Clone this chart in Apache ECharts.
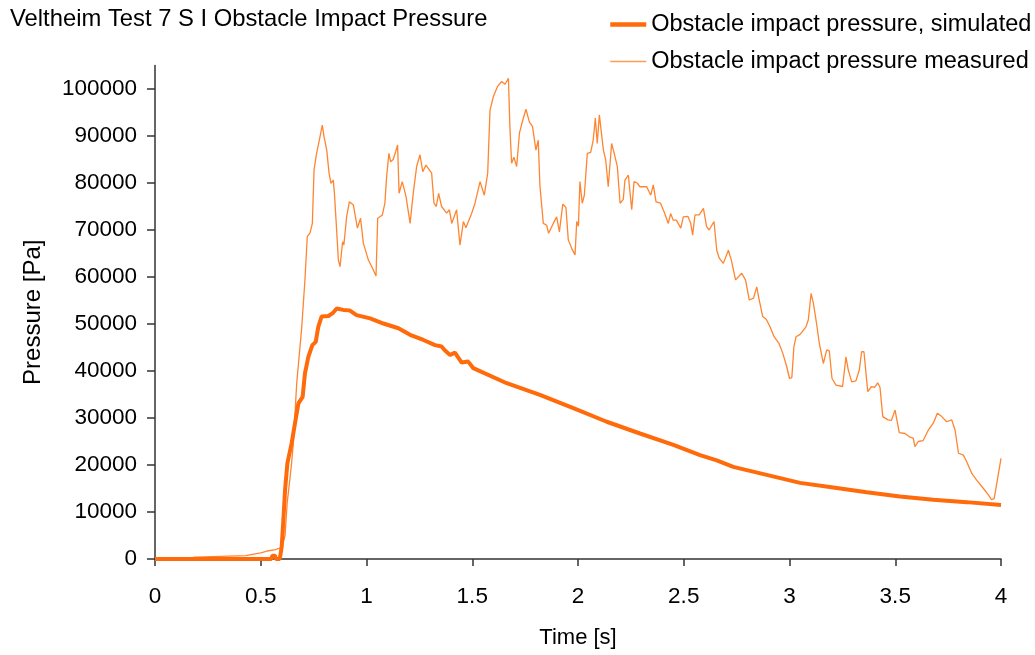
<!DOCTYPE html>
<html>
<head>
<meta charset="utf-8">
<script src="https://cdn.jsdelivr.net/npm/echarts@6/dist/echarts.min.js"></script>
<style>html,body{margin:0;padding:0;background:#fff}#c{width:1035px;height:655px}</style>
</head>
<body>
<div id="c"></div>
<script>
const titleText = 'Veltheim Test 7 S I Obstacle Impact Pressure';
const seriesNames = ['Obstacle impact pressure, simulated', 'Obstacle impact pressure measured'];
const xTicks = [0, 0.5, 1, 1.5, 2, 2.5, 3, 3.5, 4];
const yTicks = [0, 10000, 20000, 30000, 40000, 50000, 60000, 70000, 80000, 90000, 100000];

const simT = [0,0.55,0.555,0.568,0.572,0.59,0.599,0.607,0.615,0.626,0.646,0.662,0.678,0.698,0.709,0.725,0.744,0.76,0.772,0.788,0.82,0.84,0.859,0.89,0.92,0.953,1.017,1.08,1.151,1.206,1.269,1.324,1.355,1.37,1.395,1.418,1.45,1.481,1.505,1.663,1.82,1.978,2.136,2.293,2.451,2.577,2.656,2.734,2.892,3.05,3.207,3.365,3.522,3.68,3.838,4.0];
const simP = [0,0,700,700,0,0,2600,8300,14700,20400,24600,28900,33100,34500,39500,43000,45500,46200,49400,51600,51700,52300,53300,53000,52900,51900,51200,50100,49100,47700,46600,45500,45200,44400,43400,43900,41800,42000,40600,37400,34900,32100,29200,26700,24300,22100,21000,19600,17900,16200,15200,14200,13300,12600,12100,11500];

const measT = [0,0.14,0.142,0.19,0.192,0.43,0.46,0.5,0.53,0.57,0.6,0.615,0.625,0.632,0.645,0.654,0.67,0.694,0.709,0.72,0.733,0.744,0.752,0.764,0.777,0.791,0.799,0.812,0.823,0.832,0.843,0.848,0.856,0.867,0.875,0.887,0.893,0.906,0.919,0.938,0.957,0.972,0.985,1.009,1.017,1.029,1.045,1.053,1.075,1.087,1.095,1.106,1.114,1.126,1.138,1.147,1.154,1.169,1.187,1.206,1.221,1.237,1.253,1.266,1.281,1.297,1.308,1.319,1.33,1.341,1.355,1.379,1.392,1.403,1.426,1.442,1.458,1.47,1.497,1.513,1.537,1.557,1.573,1.584,1.6,1.619,1.639,1.655,1.671,1.678,1.686,1.697,1.71,1.723,1.739,1.754,1.77,1.785,1.801,1.812,1.82,1.836,1.852,1.861,1.883,1.899,1.912,1.928,1.943,1.954,1.97,1.986,1.994,2.002,2.009,2.02,2.03,2.044,2.06,2.072,2.082,2.091,2.101,2.11,2.12,2.131,2.143,2.159,2.17,2.186,2.199,2.214,2.222,2.238,2.254,2.265,2.28,2.293,2.325,2.344,2.356,2.369,2.39,2.407,2.427,2.438,2.45,2.465,2.486,2.498,2.52,2.533,2.542,2.553,2.573,2.593,2.608,2.62,2.643,2.656,2.668,2.687,2.711,2.725,2.745,2.774,2.792,2.81,2.83,2.845,2.857,2.873,2.89,2.908,2.927,2.95,2.968,2.987,3.0,3.011,3.021,3.031,3.05,3.078,3.089,3.102,3.113,3.128,3.141,3.16,3.176,3.188,3.201,3.22,3.251,3.267,3.278,3.294,3.314,3.33,3.341,3.352,3.37,3.388,3.403,3.417,3.428,3.441,3.466,3.482,3.499,3.519,3.546,3.567,3.585,3.593,3.609,3.632,3.656,3.68,3.699,3.72,3.743,3.767,3.783,3.799,3.822,3.838,3.862,3.885,3.917,3.941,3.956,3.968,3.98,3.988,4.0];
const measP = [0,0,400,400,600,700,1000,1300,1700,2000,2500,5000,12000,14700,20000,24600,37400,49400,59400,68600,69400,71400,82800,86300,89100,92300,89900,87000,82100,79900,80600,78000,72100,63600,62200,67500,66800,72800,76000,75300,70400,72500,67200,63600,63900,61800,60200,72500,73200,75700,81300,86300,84500,85000,86700,88100,77800,80300,77100,71400,77800,83500,86000,82400,83800,82800,82100,75700,75000,77800,75000,73600,74300,71400,74300,66800,71800,70500,73500,75700,80300,77400,82100,95500,98400,100500,101600,101000,102300,92000,84200,85500,83500,90600,93400,95700,93000,92000,87000,89100,79400,71400,71000,69300,71400,72800,69600,75500,74800,67900,66100,64700,71800,70800,80300,75700,77400,86300,86500,89100,93800,88400,94500,94500,87000,84900,79200,88400,86500,83500,75700,76500,80600,81700,74300,80300,80000,79200,79200,77400,79600,76000,75700,73900,71400,73500,72100,72100,70400,72800,72900,71400,68900,73200,73200,74600,70700,70000,71800,65700,64000,62900,65700,63600,59400,60800,59400,55100,55500,57900,55100,51600,51000,49400,47300,45900,43800,40900,38400,38600,45200,47300,47800,49400,50900,56500,54400,50100,45900,41600,44500,44300,38400,37000,36700,43000,40200,37700,37900,40200,44100,44100,35600,36700,36500,37500,36500,30300,29600,29500,31700,26900,26700,26000,25700,23900,25000,25200,27400,28900,31000,30300,29200,29600,27400,22500,22100,20700,18200,16800,15000,13600,12600,12900,16100,18200,21400];

const pair = (t, p) => t.map((v, i) => [v, p[i]]);
const FONT = '"Liberation Sans", Arial, Helvetica, sans-serif';
const SIM_COLOR = '#FF6A0A';
const MEAS_COLOR = '#FF8530';

const chart = echarts.init(document.getElementById('c'), null, {renderer: 'canvas'});
chart.setOption({
  animation: false,
  backgroundColor: '#fff',
  textStyle: {fontFamily: FONT},
  title: {
    text: titleText, left: 5, top: 2,
    textStyle: {fontFamily: FONT, fontSize: 23.8, fontWeight: 'normal', color: '#000'}
  },
  legend: {
    orient: 'vertical', left: 603, top: 7.5, itemGap: 13, itemWidth: 36, itemHeight: 14,
    align: 'left',
    itemStyle: {opacity: 0},
    textStyle: {fontFamily: FONT, fontSize: 23.5, color: '#000', lineHeight: 24},
    data: [
      {name: seriesNames[0], lineStyle: {width: 4.5, color: SIM_COLOR}},
      {name: seriesNames[1], lineStyle: {width: 1.6, color: '#FF9C55'}}
    ]
  },
  grid: {left: 155, right: 34, top: 65.5, bottom: 96, containLabel: false},
  xAxis: {
    type: 'value', min: 0, max: 4, interval: 0.5,
    name: 'Time [s]', nameLocation: 'middle', nameGap: 68,
    nameTextStyle: {fontFamily: FONT, fontSize: 22, color: '#000'},
    axisLine: {lineStyle: {color: '#333', width: 1.5}},
    axisTick: {show: true, length: 7, lineStyle: {color: '#333', width: 1.5}},
    axisLabel: {margin: 26, fontFamily: FONT, fontSize: 22.5, color: '#000',
      customValues: xTicks, formatter: v => String(v)},
    splitLine: {show: false}
  },
  yAxis: {
    type: 'value', min: 0, max: 105000,
    name: 'Pressure [Pa]', nameLocation: 'middle', nameGap: 110, nameRotate: 90,
    nameTextStyle: {fontFamily: FONT, fontSize: 24, color: '#000'},
    axisLine: {show: true, lineStyle: {color: '#333', width: 1.5}},
    axisTick: {show: true, length: 8, lineStyle: {color: '#333', width: 1.5}, customValues: yTicks},
    axisLabel: {margin: 18, fontFamily: FONT, fontSize: 22.5, color: '#000', customValues: yTicks,
      formatter: v => String(v)},
    splitLine: {show: false}
  },
  series: [
    {
      name: seriesNames[0], type: 'line', data: pair(simT, simP), symbol: 'none',
      lineStyle: {color: SIM_COLOR, width: 4}, itemStyle: {color: SIM_COLOR}, z: 3
    },
    {
      name: seriesNames[1], type: 'line', data: pair(measT, measP), symbol: 'none',
      lineStyle: {color: MEAS_COLOR, width: 1.3}, itemStyle: {color: MEAS_COLOR}, z: 2
    }
  ]
});
</script>
</body>
</html>
